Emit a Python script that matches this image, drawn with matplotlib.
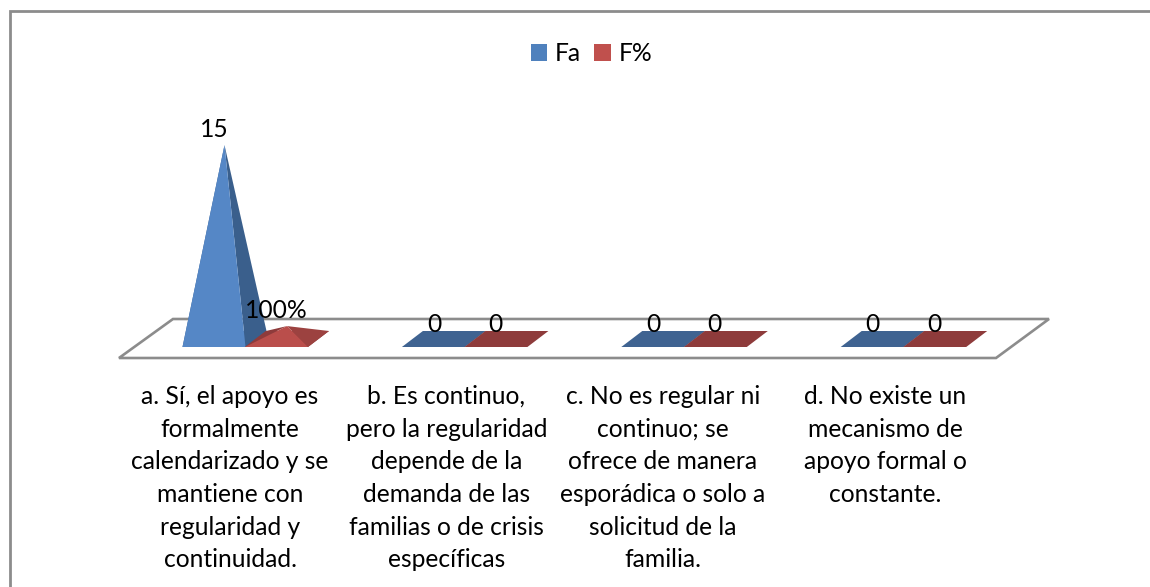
from matplotlib.pyplot import subplots, rcParams
from matplotlib.patches import Polygon, Patch

# values
categories = [
    "a. Sí, el apoyo es\nformalmente\ncalendarizado y se\nmantiene con\nregularidad y\ncontinuidad.",
    "b. Es continuo,\npero la regularidad\ndepende de la\ndemanda de las\nfamilias o de crisis\nespecíficas",
    "c. No es regular ni\ncontinuo; se\nofrece de manera\nesporádica o solo a\nsolicitud de la\nfamilia.",
    "d. No existe un\nmecanismo de\napoyo formal o\nconstante.",
]
fa = [15, 0, 0, 0]
fp = [1, 0, 0, 0]
fa_labels = ["15", "0", "0", "0"]
fp_labels = ["100%", "0", "0", "0"]

W, H = 1150, 587
X0, DX = 245, 219.4   # pixel of the first group, pixels per category
Y0, DY = 339, 12.93   # pixel of value 0, pixels per value unit
GREY = "#8c8c8c"
FS = 17.7
LABEL_SHIFT = [-15, -18, -21, -18]  # category text is not quite centred on the groups


def px(x):
    return (x - X0) / DX


def py(y):
    return (Y0 - y) / DY


def pyramid(ax, left, value, front, side, base):
    w = 63 / DX
    dep_x = 21 / DX
    dep_y = 8 / DY
    fl = (left, -dep_y)
    fr = (left + w, -dep_y)
    br = (left + w + dep_x, dep_y)
    bl = (left + dep_x, dep_y)
    apex = (left + w / 2 + dep_x / 2, value)
    ax.add_patch(Polygon([fl, fr, br, bl], closed=True, fc=base, ec="none", zorder=3))
    if value > 0:
        ax.add_patch(Polygon([fl, bl, apex], closed=True, fc=base, ec="none", zorder=3))
        ax.add_patch(Polygon([fr, br, apex], closed=True, fc=side, ec="none", zorder=3))
        ax.add_patch(Polygon([fl, fr, apex], closed=True, fc=front, ec="none", zorder=3))
    return apex


def main():
    rcParams["font.family"] = ["Lato", "DejaVu Sans"]
    fig, ax = subplots(figsize=(W / 100, H / 100), dpi=100)
    ax.set_position([0, 0, 1, 1])
    ax.set_xlim(px(0), px(W))
    ax.set_ylim(py(H), py(0))
    ax.axis("off")

    # outer frame, only top and left are inside the picture
    ax.plot([px(10), px(10), px(W)], [py(H), py(11), py(11)], color=GREY,
            lw=2, solid_joinstyle="miter", zorder=1)

    # floor
    floor = [(px(119), py(358)), (px(996), py(358)), (px(1049), py(319)), (px(173), py(319))]
    ax.add_patch(Polygon(floor, closed=True, fc="white", ec=GREY, lw=1.9, zorder=2))

    for i in range(len(categories)):
        left_fa = i - 62.5 / DX
        a = pyramid(ax, left_fa, fa[i], "#5587C6", "#3A5F8C", "#3F6391")
        b = pyramid(ax, i, fp[i], "#BA4E4B", "#9C4240", "#8E3B3B")

        ax.text(a[0] - 10 / DX, a[1] + 4.5 / DY if fa[i] else a[1] + 3.5 / DY, fa_labels[i], ha="center",
                va="bottom", fontsize=FS, color="black", zorder=5)
        ax.text(b[0] - 11 / DX, b[1] + 4 / DY if fp[i] else b[1] + 3.5 / DY, fp_labels[i], ha="center",
                va="bottom", fontsize=FS, color="black", zorder=5)

        ax.text(i + LABEL_SHIFT[i] / DX, py(385), categories[i], ha="center", va="top",
                fontsize=FS, linespacing=1.51, color="black")

    handles = [Patch(fc="#4F81BD", label="Fa"), Patch(fc="#C0504D", label="F%")]
    ax.legend(handles=handles, loc="center", bbox_to_anchor=(591.5 / W, 1 - 53.5 / H),
              ncols=2, frameon=False, fontsize=FS, handlelength=0.68,
              handleheight=0.68, handletextpad=0.3, columnspacing=0.55)

    fig.savefig("out.png", dpi=100)


if __name__ == "__main__":
    main()
